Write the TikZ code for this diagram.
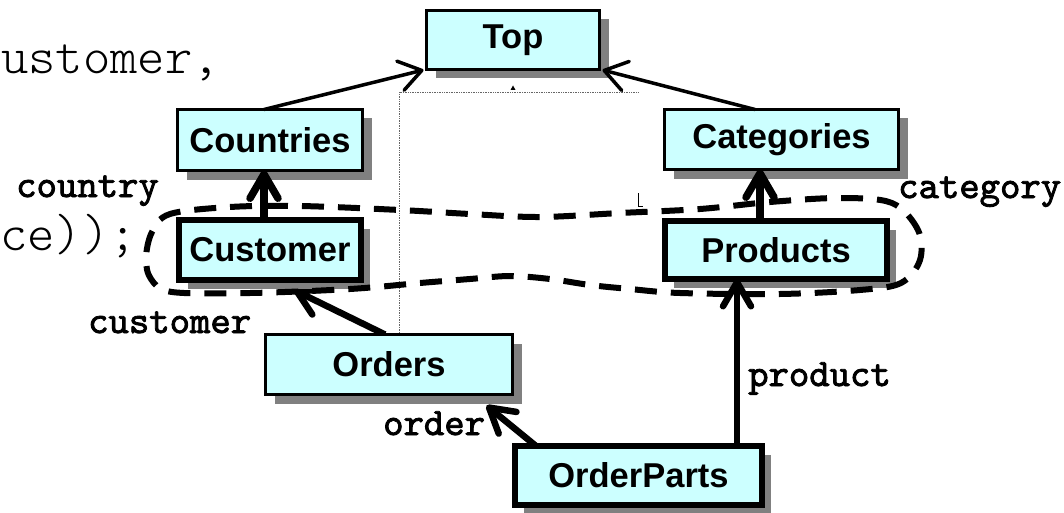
\documentclass[tikz,border=0pt]{standalone}
\usepackage{fontspec}
\setmainfont{Liberation Sans}
\newfontfamily\rolefont[FakeBold=2.2]{lmmono10-regular.otf}
\newfontfamily\listingfont{lmmonolt10-regular.otf}
\usetikzlibrary{arrows.meta,shadows,calc,backgrounds}
\definecolor{boxfill}{HTML}{CCFFFF}
\definecolor{shade}{HTML}{808080}

\begin{document}
\begin{tikzpicture}[x=1pt,y=-1pt,
  entity/.style={draw=black, fill=boxfill, line width=3pt, inner sep=0pt, outer sep=0pt,
    font=\fontsize{34.5}{38}\selectfont\bfseries,
    general shadow={fill=shade, shadow xshift=9pt, shadow yshift=-9pt}},
  strong/.style={entity, line width=6pt},
  role/.style={font=\rolefont\fontsize{38.8}{42}\selectfont, anchor=base west, inner sep=0pt},
  code/.style={font=\listingfont\fontsize{52}{56}\selectfont, anchor=base west, inner sep=0pt},
  link/.style={line width=3.5pt, line cap=round, -{Straight Barb[length=22pt,width=30pt,round]}},
  ref/.style={line width=6.5pt, -{Straight Barb[length=24pt,width=28pt,round]}},
  guide/.style={draw=black!60, line width=0.7pt, densely dotted},
  group/.style={line width=6pt, dash pattern=on 22pt off 14pt},
]
\useasboundingbox (0,0) rectangle (1064,513);

% code fragments behind the schema
\node[code] (codeA) at (1,74) {ustomer,};
\node[code] (codeB) at (0,250) {ce));};

% tables
\node[entity, minimum width=173pt, minimum height=59pt] (top) at (513,40) {Top};
\node[entity, minimum width=185pt, minimum height=61pt] (countries) at (270,140) {Countries};
\node[entity, minimum width=234pt, minimum height=60pt] (categories) at (781.5,139.5) {Categories};
\node[strong, minimum width=182pt, minimum height=60pt] (customer) at (270,250) {Customer};
\node[strong, minimum width=222pt, minimum height=58pt] (products) at (776,250) {Products};
\node[entity, minimum width=247pt, minimum height=60pt] (orders) at (389,364.5) {Orders};
\node[strong, minimum width=247pt, minimum height=59pt] (orderparts) at (638.5,475.5) {OrderParts};

% helper points for the guide line and the vertical references
\coordinate (gcorner) at (399,92);
\coordinate (gend) at (638,92);
\coordinate (ccol) at (264,0);
\coordinate (kcol) at (760,0);
\coordinate (pcol) at (737,0);

\begin{pgfonlayer}{background}
  \draw[guide] (orders.north -| gcorner) -- (gcorner) -- (gend);
  \fill[black] (510.5,90) -- (513,85.5) -- (515.5,90) -- cycle;
  \draw[black, line width=1pt] (638.5,193) -- (638.5,206.5) -- (643,206.5);
  \draw[ref] ($(orders.north)+(-4,0)$) -- ($(customer.south)+(24,10)$);
\end{pgfonlayer}

% the grouped pair of dimension tables
\draw[group] plot[smooth cycle, tension=0.55] coordinates {
  (170,214) (230,207) (300,206) (400,210) (470,214) (540,217) (620,213)
  (700,209) (770,202) (840,198) (892,203) (918,230) (920,260) (901,283)
  (860,290) (780,294) (680,293) (630,289) (590,285) (550,279) (510,276)
  (470,279) (420,283) (350,289) (250,293) (172,292) (151,279) (146,258)
  (152,232)};

% references
\draw[link] ($(countries.north)+(-6,0)$) -- ($(top.south west)+(-3,0.5)$);
\draw[link] ($(categories.north)+(-26.5,0)$) -- ($(top.south east)+(3,0.5)$);
\draw[ref, line width=7.5pt] (customer.north -| ccol) -- (countries.south -| ccol);
\draw[ref, line width=7.5pt] (products.north -| kcol) -- (categories.south -| kcol);
\draw[ref] ($(orderparts.north west)+(21,0)$) -- ($(orders.south east)+(-26,11)$);
\draw[ref] (orderparts.north -| pcol) -- (products.south -| pcol);

% role labels
\node[role] (lcountry) at (16,197) {country};
\node[role] (lcategory) at (898,198) {category};
\node[role] (lcustomer) at (88,333) {customer};
\node[role] (lorder) at (383,435) {order};
\node[role] (lproduct) at (748,386) {product};
\end{tikzpicture}
\end{document}
